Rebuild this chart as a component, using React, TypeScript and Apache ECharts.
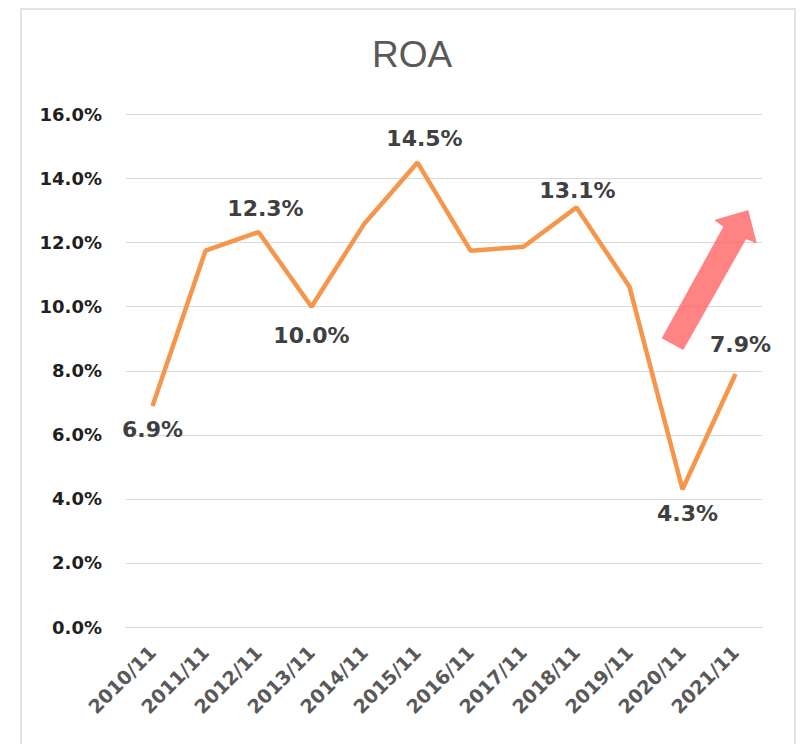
import React, { useEffect, useRef } from "react";
import * as echarts from "echarts";

const categories = [
  "2010/11", "2011/11", "2012/11", "2013/11", "2014/11", "2015/11",
  "2016/11", "2017/11", "2018/11", "2019/11", "2020/11", "2021/11",
];
const roaValues = [6.9, 11.75, 12.33, 10.0, 12.6, 14.5, 11.75, 11.87, 13.1, 10.62, 4.3, 7.9];
const labelledPoints: Record<number, "top" | "bottom"> = {
  0: "bottom",
  2: "top",
  3: "bottom",
  5: "top",
  8: "top",
  10: "bottom",
  11: "top",
};
const labelDistance: Record<number, number> = {
  0: 13, 2: 13, 3: 18, 5: 13, 8: 6, 10: 13, 11: 18,
};
const labelShift: Record<number, number> = {
  0: 0, 2: 7, 3: 0, 5: 7, 8: 1, 10: 5, 11: 5,
};

export default function App() {
  const ref = useRef<HTMLDivElement>(null);
  useEffect(() => {
    if (!ref.current) return;
    const chart = echarts.init(ref.current, undefined, { renderer: "svg" });
    const data = roaValues.map((v, i) => {
      const pos = labelledPoints[i];
      if (!pos) return { value: v, label: { show: false } };
      return {
        value: v,
        label: {
          show: true,
          position: pos,
          distance: labelDistance[i],
          offset: [labelShift[i], 0],
        },
      };
    });
    chart.setOption({
      animation: false,
      backgroundColor: "#ffffff",
      title: {
        text: "ROA",
        left: 407,
        top: 31,
        textAlign: "center",
        textStyle: {
          fontFamily: "Liberation Sans",
          fontSize: 37,
          fontWeight: "normal",
          color: "#595959",
        },
      },
      grid: { left: 126, right: 46, top: 114.5, bottom: 117, containLabel: false },
      xAxis: {
        type: "category",
        data: categories,
        boundaryGap: true,
        axisLine: { show: true, lineStyle: { color: "#d9d9d9", width: 1 } },
        axisTick: { show: false },
        axisLabel: {
          rotate: 45,
          margin: 22,
          interval: 0,
          fontFamily: "DejaVu Sans",
          fontWeight: "bold",
          fontSize: 19,
          color: "#595959",
        },
      },
      yAxis: {
        type: "value",
        min: 0,
        max: 16,
        interval: 2,
        axisLine: { show: false },
        axisTick: { show: false },
        splitLine: { show: true, lineStyle: { color: "#d9d9d9", width: 1 } },
        axisLabel: {
          margin: 24,
          fontFamily: "DejaVu Sans",
          fontWeight: "bold",
          fontSize: 18,
          color: "#1f1f1f",
          formatter: (v: number) => `${v.toFixed(1)}%`,
        },
      },
      series: [
        {
          type: "line",
          data,
          symbol: "circle",
          symbolSize: 0,
          showSymbol: true,
          lineStyle: { color: "#F7964A", width: 4.5 },
          itemStyle: { color: "#F7964A" },
          label: {
            fontFamily: "DejaVu Sans",
            fontWeight: "bold",
            fontSize: 22,
            color: "#404040",
            formatter: (p: any) => `${Number(p.value).toFixed(1)}%`,
          },
        },
      ],
      graphic: [
        {
          type: "rect",
          shape: { x: 21, y: 9, width: 774, height: 760 },
          style: { fill: "none", stroke: "#d9d9d9", lineWidth: 1.5 },
          silent: true,
        },
        {
          type: "polygon",
          shape: {
            points: [
              [661.7, 338.3],
              [723.3, 226.7],
              [714.3, 220],
              [748.3, 210],
              [756.7, 243.3],
              [746, 239.3],
              [683.3, 350],
            ],
          },
          style: { fill: "rgba(255,100,100,0.8)" },
          z: 10,
        },
      ],
    });
    return () => chart.dispose();
  }, []);
  return (
    <div
      ref={ref}
      style={{ position: "fixed", left: 0, top: 0, width: 808, height: 744, background: "#fff" }}
    />
  );
}
